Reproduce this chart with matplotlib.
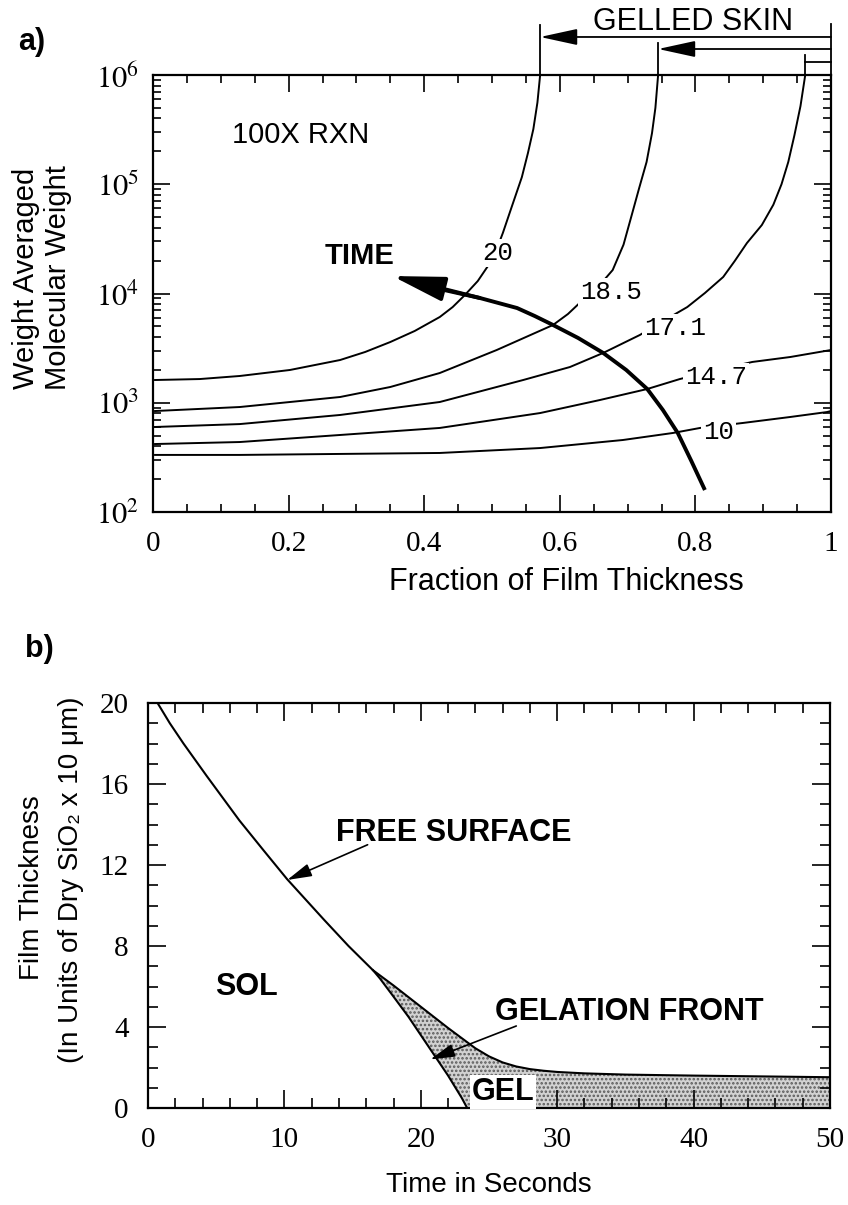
import matplotlib
matplotlib.use('Agg')
import matplotlib.pyplot as plt
import numpy as np
from matplotlib.ticker import LogLocator, MultipleLocator, NullFormatter

plt.rcParams['mathtext.fontset'] = 'stix'
plt.rcParams['hatch.linewidth'] = 1.2

SANS = ['Liberation Sans', 'DejaVu Sans']
SERIF = ['Liberation Serif', 'DejaVu Serif']
MONO = ['Liberation Mono', 'DejaVu Sans Mono']

# ---------------- Panel a data (fraction of film thickness vs Mw) ----------------
c20_x = [0.003, 0.069, 0.128, 0.202, 0.276, 0.313, 0.350, 0.386, 0.423, 0.442, 0.460,
         0.479, 0.497, 0.507, 0.516, 0.529, 0.544, 0.553, 0.561, 0.567, 0.571]
c20_mw = [1615, 1648, 1758, 1995, 2462, 2917, 3597, 4539, 6095, 7516, 9683,
          13000, 19000, 25500, 35800, 61900, 116000, 193000, 320000, 560000, 1e6]

c185_x = [0.003, 0.128, 0.276, 0.350, 0.423, 0.507, 0.590, 0.612, 0.634, 0.659, 0.678,
          0.694, 0.706, 0.717, 0.728, 0.736, 0.741, 0.745]
c185_mw = [840, 914, 1129, 1394, 1872, 3040, 5150, 6490, 8730, 11970, 16400,
           28000, 52000, 92000, 160000, 294000, 500000, 1e6]

c171_x = [0.003, 0.128, 0.276, 0.423, 0.546, 0.615, 0.664, 0.718, 0.755, 0.788, 0.814,
          0.841, 0.858, 0.876, 0.898, 0.915, 0.927, 0.937, 0.946, 0.955, 0.962]
c171_mw = [600, 638, 773, 1016, 1615, 2124, 2857, 4170, 5715, 7516, 10100,
           14160, 19830, 28970, 42350, 65000, 100000, 160000, 280000, 520000, 1e6]

c147_x = [0.003, 0.128, 0.276, 0.423, 0.571, 0.659, 0.729, 0.777, 0.832, 0.884, 0.940, 1.0]
c147_mw = [419, 437, 507, 588, 805, 1059, 1336, 1648, 1995, 2363, 2623, 3040]

c10_x = [0.003, 0.128, 0.276, 0.423, 0.571, 0.693, 0.767, 0.807, 0.870, 0.940, 0.994, 1.0]
c10_mw = [333, 333, 340, 347, 385, 456, 529, 588, 653, 741, 822, 840]

curve_labels = ['20', '18.5', '17.1', '14.7', '10']
label_x = [0.508, 0.675, 0.770, 0.830, 0.834]
label_mw = [23500, 10300, 4830, 1720, 540]

time_x = [0.814, 0.794, 0.774, 0.752, 0.729, 0.698, 0.664, 0.627, 0.590, 0.563, 0.537,
          0.482, 0.423, 0.353]
time_mw = [159, 293, 529, 859, 1336, 1995, 2857, 3917, 5150, 6223, 7362,
           9100, 10990, 14450]

xa_ticks = [0, 0.2, 0.4, 0.6, 0.8, 1]
xa_ticklabels = ['0', '0.2', '0.4', '0.6', '0.8', '1']
ya_ticks = [1e2, 1e3, 1e4, 1e5, 1e6]
ya_ticklabels = [r'$10^{2}$', r'$10^{3}$', r'$10^{4}$', r'$10^{5}$', r'$10^{6}$']

# ---------------- Panel b data (time vs film thickness) ----------------
free_t = [0.7, 1.6, 2.6, 4.3, 5.5, 6.7, 8.5, 10.2, 12.9, 14.7, 16.5, 18.0, 20.0, 22.0,
          24.0, 25.0, 26.0, 27.0, 28.0, 29.0, 30.0, 32.0, 35.0, 40.0, 50.0]
free_h = [20.0, 19.0, 18.0, 16.4, 15.3, 14.2, 12.7, 11.3, 9.3, 8.0, 6.8, 6.05, 5.0, 3.95,
          2.95, 2.55, 2.25, 2.05, 1.92, 1.84, 1.78, 1.71, 1.65, 1.6, 1.52]

gel_t = [16.5, 17.0, 18.0, 19.1, 20.0, 21.0, 22.0, 23.0, 23.4]
gel_h = [6.8, 6.4, 5.5, 4.5, 3.6, 2.6, 1.6, 0.5, 0.0]

xb_ticks = [0, 10, 20, 30, 40, 50]
yb_ticks = [0, 4, 8, 12, 16, 20]

# ---------------- Figure ----------------
W, H = 848, 1205
fig = plt.figure(figsize=(W / 100, H / 100), dpi=100)


def box(l, t, r, b):
    return [l / W, 1 - b / H, (r - l) / W, (b - t) / H]


axa = fig.add_axes(box(153, 75, 831, 512))
axb = fig.add_axes(box(148, 703, 830, 1108))

for ax in (axa, axb):
    for s in ax.spines.values():
        s.set_linewidth(1.6)

# ---- Panel a ----
curves_x = [c20_x, c185_x, c171_x, c147_x, c10_x]
curves_mw = [c20_mw, c185_mw, c171_mw, c147_mw, c10_mw]
for xs, ys in zip(curves_x, curves_mw):
    axa.plot(xs, ys, color='k', lw=1.4, zorder=2, solid_joinstyle='round')

axa.set_yscale('log')
axa.set_xlim(0, 1)
axa.set_ylim(1e2, 1e6)

for lab, lx, ly in zip(curve_labels, label_x, label_mw):
    axa.text(lx, ly, lab, family=MONO, fontsize=18.5, ha='center', va='center',
             bbox=dict(facecolor='white', edgecolor='none', pad=1.5), zorder=3)

axa.plot(time_x[:-1], time_mw[:-1], color='k', lw=2.8, zorder=4,
         solid_capstyle='butt', solid_joinstyle='round')
axa.annotate('', xy=(time_x[-1], time_mw[-1]), xytext=(time_x[-3], time_mw[-3]),
             arrowprops=dict(arrowstyle='-|>,head_length=3.2,head_width=0.75',
                             mutation_scale=10, lw=2.8, color='k',
                             shrinkA=0, shrinkB=0), zorder=4)

axa.text(0.305, 0.586, 'TIME', transform=axa.transAxes, family=SANS, fontsize=21,
         fontweight='bold', ha='center', va='center')
axa.text(0.218, 0.863, '100X RXN', transform=axa.transAxes, family=SANS, fontsize=21,
         ha='center', va='center')

axa.set_xticks(xa_ticks)
axa.set_xticklabels(xa_ticklabels, family=SERIF, fontsize=21)
axa.xaxis.set_minor_locator(MultipleLocator(0.05))
axa.set_yticks(ya_ticks)
axa.set_yticklabels(ya_ticklabels, fontsize=22)
axa.yaxis.set_minor_locator(LogLocator(base=10, subs=np.arange(2, 10)))
axa.yaxis.set_minor_formatter(NullFormatter())
axa.tick_params(which='both', direction='in', top=True, right=True, width=1.2)
axa.tick_params(which='major', length=12)
axa.tick_params(which='minor', length=5.5)
axa.tick_params(axis='x', pad=14)
axa.tick_params(axis='y', pad=10)

# Gelled skin bracket above panel a
tr = axa.get_xaxis_transform()
ends = [c20_x[-1], c185_x[-1], c171_x[-1]]
tops = [1.1144, 1.0732, 1.0458]
levels = [1.087, 1.0595, 1.0297]
for xe, tp in zip(ends, tops):
    axa.plot([xe, xe], [1.0, tp], color='k', lw=1.3, transform=tr, clip_on=False)
axa.plot([1.0, 1.0], [1.0, 1.1167], color='k', lw=1.3, transform=tr, clip_on=False)
for i, (xe, lv) in enumerate(zip(ends, levels)):
    if i < 2:
        axa.annotate('', xy=(xe, lv), xytext=(1.0, lv), xycoords=tr, textcoords=tr,
                     arrowprops=dict(arrowstyle='-|>,head_length=2.3,head_width=0.5',
                                     mutation_scale=10, lw=1.3, color='k',
                                     shrinkA=0, shrinkB=0), annotation_clip=False)
    else:
        axa.plot([xe, 1.0], [lv, lv], color='k', lw=1.3, transform=tr, clip_on=False)
axa.text(0.796, 1.1213, 'GELLED SKIN', transform=tr, family=SANS, fontsize=22,
         ha='center', va='center', clip_on=False)

fig.text(26 / W, 1 - 278 / H, 'Weight Averaged', rotation=90, family=SANS, fontsize=21,
         ha='center', va='center')
fig.text(58.5 / W, 1 - 278 / H, 'Molecular Weight', rotation=90, family=SANS, fontsize=21,
         ha='center', va='center')
fig.text(566 / W, 1 - 582 / H, 'Fraction of Film Thickness', family=SANS, fontsize=22,
         ha='center', va='center')
fig.text(32 / W, 1 - 42 / H, 'a)', family=SANS, fontsize=22, fontweight='bold',
         ha='center', va='center')

# ---- Panel b ----
j = free_t.index(gel_t[0])
poly_t = np.concatenate([free_t[j:], [free_t[-1]], gel_t[::-1]])
poly_h = np.concatenate([free_h[j:], [0.0], gel_h[::-1]])
axb.fill(poly_t, poly_h, facecolor='#d2d2d2', edgecolor='#5a5a5a', linewidth=0,
         hatch='....', zorder=1)
axb.plot(free_t, free_h, color='k', lw=1.5, zorder=3, solid_joinstyle='round')
axb.plot(gel_t, gel_h, color='k', lw=1.5, zorder=3, solid_joinstyle='round')

axb.set_xlim(0, 50)
axb.set_ylim(0, 20)

axb.text(22.4, 13.6, 'FREE SURFACE', family=SANS, fontsize=22, fontweight='bold',
         ha='center', va='center')
axb.annotate('', xy=(10.2, 11.26), xytext=(16.1, 13.0),
             arrowprops=dict(arrowstyle='-|>,head_length=1.5,head_width=0.4',
                             mutation_scale=10, lw=1.2, color='k', shrinkA=0, shrinkB=0))
axb.text(7.2, 5.98, 'SOL', family=SANS, fontsize=22, fontweight='bold',
         ha='center', va='center')
axb.text(35.3, 4.74, 'GELATION FRONT', family=SANS, fontsize=22, fontweight='bold',
         ha='center', va='center')
axb.annotate('', xy=(20.7, 2.4), xytext=(27.0, 4.05),
             arrowprops=dict(arrowstyle='-|>,head_length=1.5,head_width=0.4',
                             mutation_scale=10, lw=1.2, color='k', shrinkA=0, shrinkB=0),
             zorder=4)
axb.text(26.0, 0.79, 'GEL', family=SANS, fontsize=22, fontweight='bold',
         ha='center', va='center', zorder=5,
         bbox=dict(facecolor='white', edgecolor='none', pad=1.0))

axb.set_xticks(xb_ticks)
axb.set_xticklabels([str(v) for v in xb_ticks], family=SERIF, fontsize=21)
axb.set_yticks(yb_ticks)
axb.set_yticklabels([str(v) for v in yb_ticks], family=SERIF, fontsize=21)
axb.xaxis.set_minor_locator(MultipleLocator(2))
axb.yaxis.set_minor_locator(MultipleLocator(1))
axb.tick_params(which='both', direction='in', top=True, right=True, width=1.2)
axb.tick_params(which='major', length=13)
axb.tick_params(which='minor', length=7)
axb.tick_params(axis='x', pad=14)
axb.tick_params(axis='y', pad=14)

fig.text(489 / W, 1 - 1185 / H, 'Time in Seconds', family=SANS, fontsize=20,
         ha='center', va='center')
fig.text(32 / W, 1 - 888 / H, 'Film Thickness', rotation=90, family=SANS, fontsize=20,
         ha='center', va='center')
fig.text(71 / W, 1 - 880 / H, '(In Units of Dry SiO\u2082 x 10 \u03bcm)', rotation=90,
         family=SANS, fontsize=20, ha='center', va='center')
fig.text(39 / W, 1 - 649 / H, 'b)', family=SANS, fontsize=22, fontweight='bold',
         ha='center', va='center')

fig.savefig('out.png', dpi=100, facecolor='white')
